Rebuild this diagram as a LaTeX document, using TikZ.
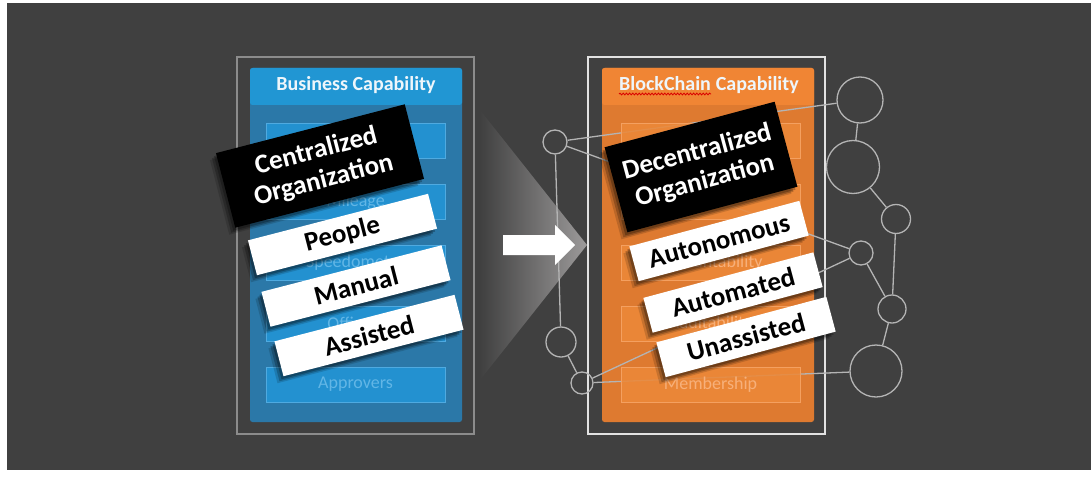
\documentclass[tikz,border=0pt]{standalone}
\usepackage{fontspec}
\setmainfont{Carlito}
\usetikzlibrary{shadows,decorations.pathmorphing}
\definecolor{bgc}{HTML}{404040}
\definecolor{trig}{HTML}{9C9A9A}
\definecolor{lframec}{HTML}{8C8C8C}
\definecolor{rframec}{HTML}{E2E2E2}
\definecolor{lhead}{HTML}{2196D3}
\definecolor{lbody}{HTML}{2B78A8}
\definecolor{lrow}{HTML}{2391D0}
\definecolor{lrowb}{HTML}{4FAAE0}
\definecolor{lrowt}{HTML}{62B6E6}
\definecolor{rhead}{HTML}{F08534}
\definecolor{rbody}{HTML}{DE7A30}
\definecolor{rrow}{HTML}{EC8838}
\definecolor{rrowb}{HTML}{F4A060}
\definecolor{rrowt}{HTML}{F7B07A}
\definecolor{headt}{HTML}{EEF6FB}
\definecolor{netc}{HTML}{B4B4B4}
\begin{document}
\begin{tikzpicture}[x=1pt,y=-1pt,
  box/.style={inner sep=0pt, outer sep=0pt},
  frm/.style={box, draw, line width=1.4pt},
  panel/.style={box, rounded corners=2.5pt},
  rowbox/.style={box, minimum width=179pt, minimum height=35pt, line width=0.9pt, font=\fontsize{18}{20}\selectfont},
  lrowbox/.style={rowbox, fill=lrow, draw=lrowb, text=lrowt},
  rrowbox/.style={rowbox, fill=rrow, fill opacity=0.88, text opacity=1, draw=rrowb, text=rrowt},
  headtxt/.style={inner sep=0pt, text=headt, font=\fontsize{20}{22}\selectfont\bfseries},
  netnode/.style={circle, draw=netc, line width=1.3pt, inner sep=0pt},
  netline/.style={draw=netc, line width=1.3pt},
  lblshadow/.style={
    drop shadow={shadow xshift=-2pt, shadow yshift=-3pt, opacity=0.25, fill=black},
    drop shadow={shadow xshift=-4pt, shadow yshift=-5pt, opacity=0.22, fill=black},
    drop shadow={shadow xshift=-6pt, shadow yshift=-7pt, opacity=0.15, fill=black}},
  blklbl/.style={box, fill=black, text=white, align=center, lblshadow, font=\fontsize{27}{30}\selectfont\bfseries},
  whtlbl/.style={box, fill=white, text=black, lblshadow, font=\fontsize{27}{30}\selectfont\bfseries, minimum height=36pt}
]
\useasboundingbox (0,0) rectangle (1091,476);
\fill[white] (0,0) rectangle (1091,476);
\fill[bgc] (7,3) rectangle (1091,470);

% gradient triangle
\shade[left color=bgc, right color=trig] (480,110) -- (587,245) -- (480,380) -- cycle;

% left side
\node[frm, draw=lframec, minimum width=237pt, minimum height=377pt] (lframe) at (355.5,245.5) {};
\node[panel, fill=lbody, minimum width=212pt, minimum height=354pt] (lpanel) at (356,245) {};
\fill[lhead, rounded corners=2.5pt] (250,105) -- (250,68) -- (462,68) -- (462,105) -- cycle;
\node[headtxt, anchor=base] (lhtxt) at (356,91) {Business Capability};
\node[lrowbox] (lrow1) at (355.5,140.5) {};
\node[lrowbox] (lrow2) at (355.5,201.5) {Mileage};
\node[lrowbox] (lrow3) at (355.5,262.5) {Speedometer};
\node[lrowbox] (lrow4) at (355.5,323.5) {Officers};
\node[lrowbox] (lrow5) at (355.5,384.5) {Approvers};

% right side
\node[frm, draw=rframec, minimum width=237pt, minimum height=377pt] (rframe) at (706.5,245.5) {};
\node[panel, fill=rbody, minimum width=212pt, minimum height=354pt] (rpanel) at (708,245) {};
\fill[rhead, rounded corners=2.5pt] (602,105) -- (602,68) -- (814,68) -- (814,105) -- cycle;
\node[headtxt, anchor=base west] (rhtxt1) at (619,91) {BlockChain};
\node[headtxt, anchor=base west] (rhtxt2) at ([xshift=4.5pt]rhtxt1.base east) {Capability};
\draw[red!85!black, line width=0.8pt, decorate, decoration={snake, amplitude=0.9pt, segment length=3.2pt}]
  ([yshift=-3pt]rhtxt1.base west) -- ([yshift=-3pt]rhtxt1.base east);

% network
\node[netnode, minimum size=24pt] (c1) at (555,142) {};
\node[netnode, minimum size=30pt] (c2) at (561,342) {};
\node[netnode, minimum size=22pt] (c3) at (582,383) {};
\node[netnode, minimum size=46pt] (r1) at (860,100) {};
\node[netnode, minimum size=53pt] (r2) at (853,167) {};
\node[netnode, minimum size=29pt] (r3) at (896,219) {};
\node[netnode, minimum size=24pt] (r4) at (861,253) {};
\node[netnode, minimum size=28pt] (r5) at (892,309) {};
\node[netnode, minimum size=52pt] (r6) at (876,371) {};
\draw[netline] (c1) -- (c2);
\draw[netline] (c2) -- (c3);
\draw[netline] (c1) -- (r1);
\draw[netline] (c1) -- (r4);
\draw[netline] (c3) -- (r4);
\draw[netline] (c3) -- (r6);
\draw[netline] (r1) -- (r2);
\draw[netline] (r2) -- (r3);
\draw[netline] (r3) -- (r5);
\draw[netline] (r4) -- (r5);
\draw[netline] (r5) -- (r6);

\node[rrowbox] (rrow1) at (710.5,140.5) {};
\node[rrowbox] (rrow2) at (710.5,201.5) {};
\node[rrowbox] (rrow3) at (710.5,262.5) {Accountability};
\node[rrowbox] (rrow4) at (710.5,323.5) {Auditability};
\node[rrowbox] (rrow5) at (710.5,384.5) {Membership};

% arrow
\fill[white] (503,235) -- (555,235) -- (555,225) -- (575,245) -- (555,265) -- (555,255) -- (503,255) -- cycle;

% left labels
\node[blklbl, rotate=14.5, minimum width=195pt, minimum height=77pt] (cent) at (320,166) {Centralized\\Organization};
\node[whtlbl, rotate=14.5, minimum width=186pt] (people) at (342.5,234.5) {People};
\node[whtlbl, rotate=14.5, minimum width=186pt] (manual) at (356,286) {Manual};
\node[whtlbl, rotate=14.5, minimum width=186pt] (assisted) at (369,335.5) {Assisted};

% right labels
\node[blklbl, rotate=15, minimum width=176pt, minimum height=88pt] (decent) at (701,167) {Decentralized\\Organization};
\node[whtlbl, rotate=15, minimum width=176pt] (auton) at (719,241) {Autonomous};
\node[whtlbl, rotate=15, minimum width=176pt] (autom) at (733,292.5) {Automated};
\node[whtlbl, rotate=15, minimum width=176pt] (unass) at (746,337) {Unassisted};
\end{tikzpicture}
\end{document}
